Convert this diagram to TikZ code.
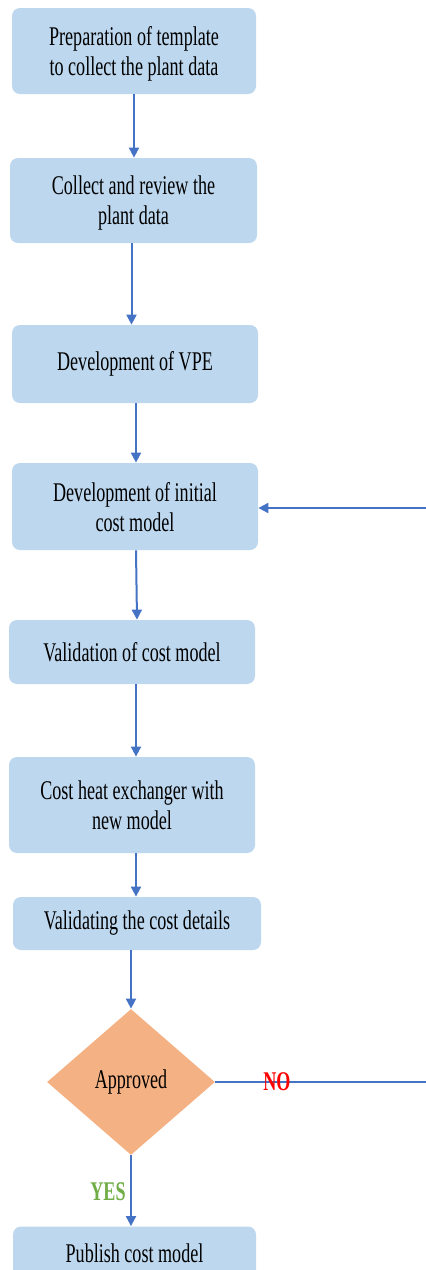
\documentclass[tikz,border=0pt]{standalone}
\usepackage{fontspec}
\setmainfont{Liberation Serif}[FakeStretch=0.67]
\usetikzlibrary{arrows.meta,shapes.geometric}

\definecolor{boxblue}{HTML}{BDD7EE}
\definecolor{arrblue}{HTML}{4472C4}
\definecolor{dmdorange}{HTML}{F4B183}
\definecolor{yesgreen}{HTML}{70AD47}

\begin{document}
\begin{tikzpicture}[
  x=0.5pt, y=-0.5pt,
  font=\fontsize{13.5}{15}\selectfont,
  >={Triangle[length=5pt,width=5pt]},
  stepbox/.style={
    rectangle, rounded corners=4pt,
    draw=none, fill=boxblue,
    minimum width=123pt, align=center,
    inner sep=2pt
  },
  twoline/.style={stepbox, text depth=-1pt},
  decision/.style={
    diamond, draw=none, fill=dmdorange,
    minimum width=84pt, minimum height=73pt,
    inner sep=0pt, align=center
  },
  arr/.style={->, line width=1pt, arrblue},
  lbl/.style={font=\fontsize{13.5}{15}\selectfont\bfseries}
]
\useasboundingbox (0,0) rectangle (426,1270);

%% ── Collecting the data ─────────────────────────────────────────────
\node[twoline, minimum width=122pt, minimum height=43pt] (tmpl) at (134,51)
  {Preparation of template\\to collect the plant data};
\node[twoline, minimum width=123.5pt, minimum height=42.5pt] (collect) at (133.5,200.5)
  {Collect and review the\\plant data};
\draw[arr] (tmpl.south) -- (tmpl.south |- collect.north);

\node[stepbox, minimum height=39pt] (vpe) at (135,364) {Development of VPE};
\draw[arr] ([xshift=-1pt]collect.south) -- ([xshift=-1pt]collect.south |- vpe.north);

%% ── Cost model ──────────────────────────────────────────────────────
\node[twoline, minimum height=43.5pt] (initial) at (135,506.5)
  {Development of initial\\cost model};
\draw[arr] ([xshift=0.5pt]vpe.south) -- ([xshift=0.5pt]vpe.south |- initial.north);

\node[stepbox, minimum height=32pt] (valid) at (132,652) {Validation of cost model};
\draw[arr] ([xshift=0.5pt]initial.south) -- ([xshift=2.5pt]valid.north);

\node[twoline, minimum height=48pt] (hx) at (132,805)
  {Cost heat exchanger with\\new model};
\draw[arr] ([xshift=2pt]valid.south) -- ([xshift=2pt]valid.south |- hx.north);

\node[stepbox, minimum width=124pt, minimum height=26.5pt] (details) at (137,923.5)
  {Validating the cost details};
\draw[arr] ([xshift=2pt]hx.south) -- ([xshift=2pt]hx.south |- details.north);

%% ── Decision ────────────────────────────────────────────────────────
\node[decision] (appr) at (131,1082) {Approved};
\draw[arr] (appr.north |- details.south) -- (appr.north);

\node[stepbox, minimum width=121.5pt, minimum height=26.5pt] (publish) at (134.5,1253)
  {Publish cost model};
\draw[arr] (appr.south) -- (appr.south |- publish.north);
\node[lbl, text=yesgreen] (yes) at (108,1192) {YES};

%% ── Rejected: back to the initial model (off the right edge) ───────
\coordinate (noend) at (426,1082);
\coordinate (back) at (426,508);
\draw[line width=1pt, arrblue] (appr.east) -- (noend);
\node[lbl, text=red] (no) at (277,1082) {NO};
\draw[arr] (back) -- (back -| initial.east);

\end{tikzpicture}
\end{document}
